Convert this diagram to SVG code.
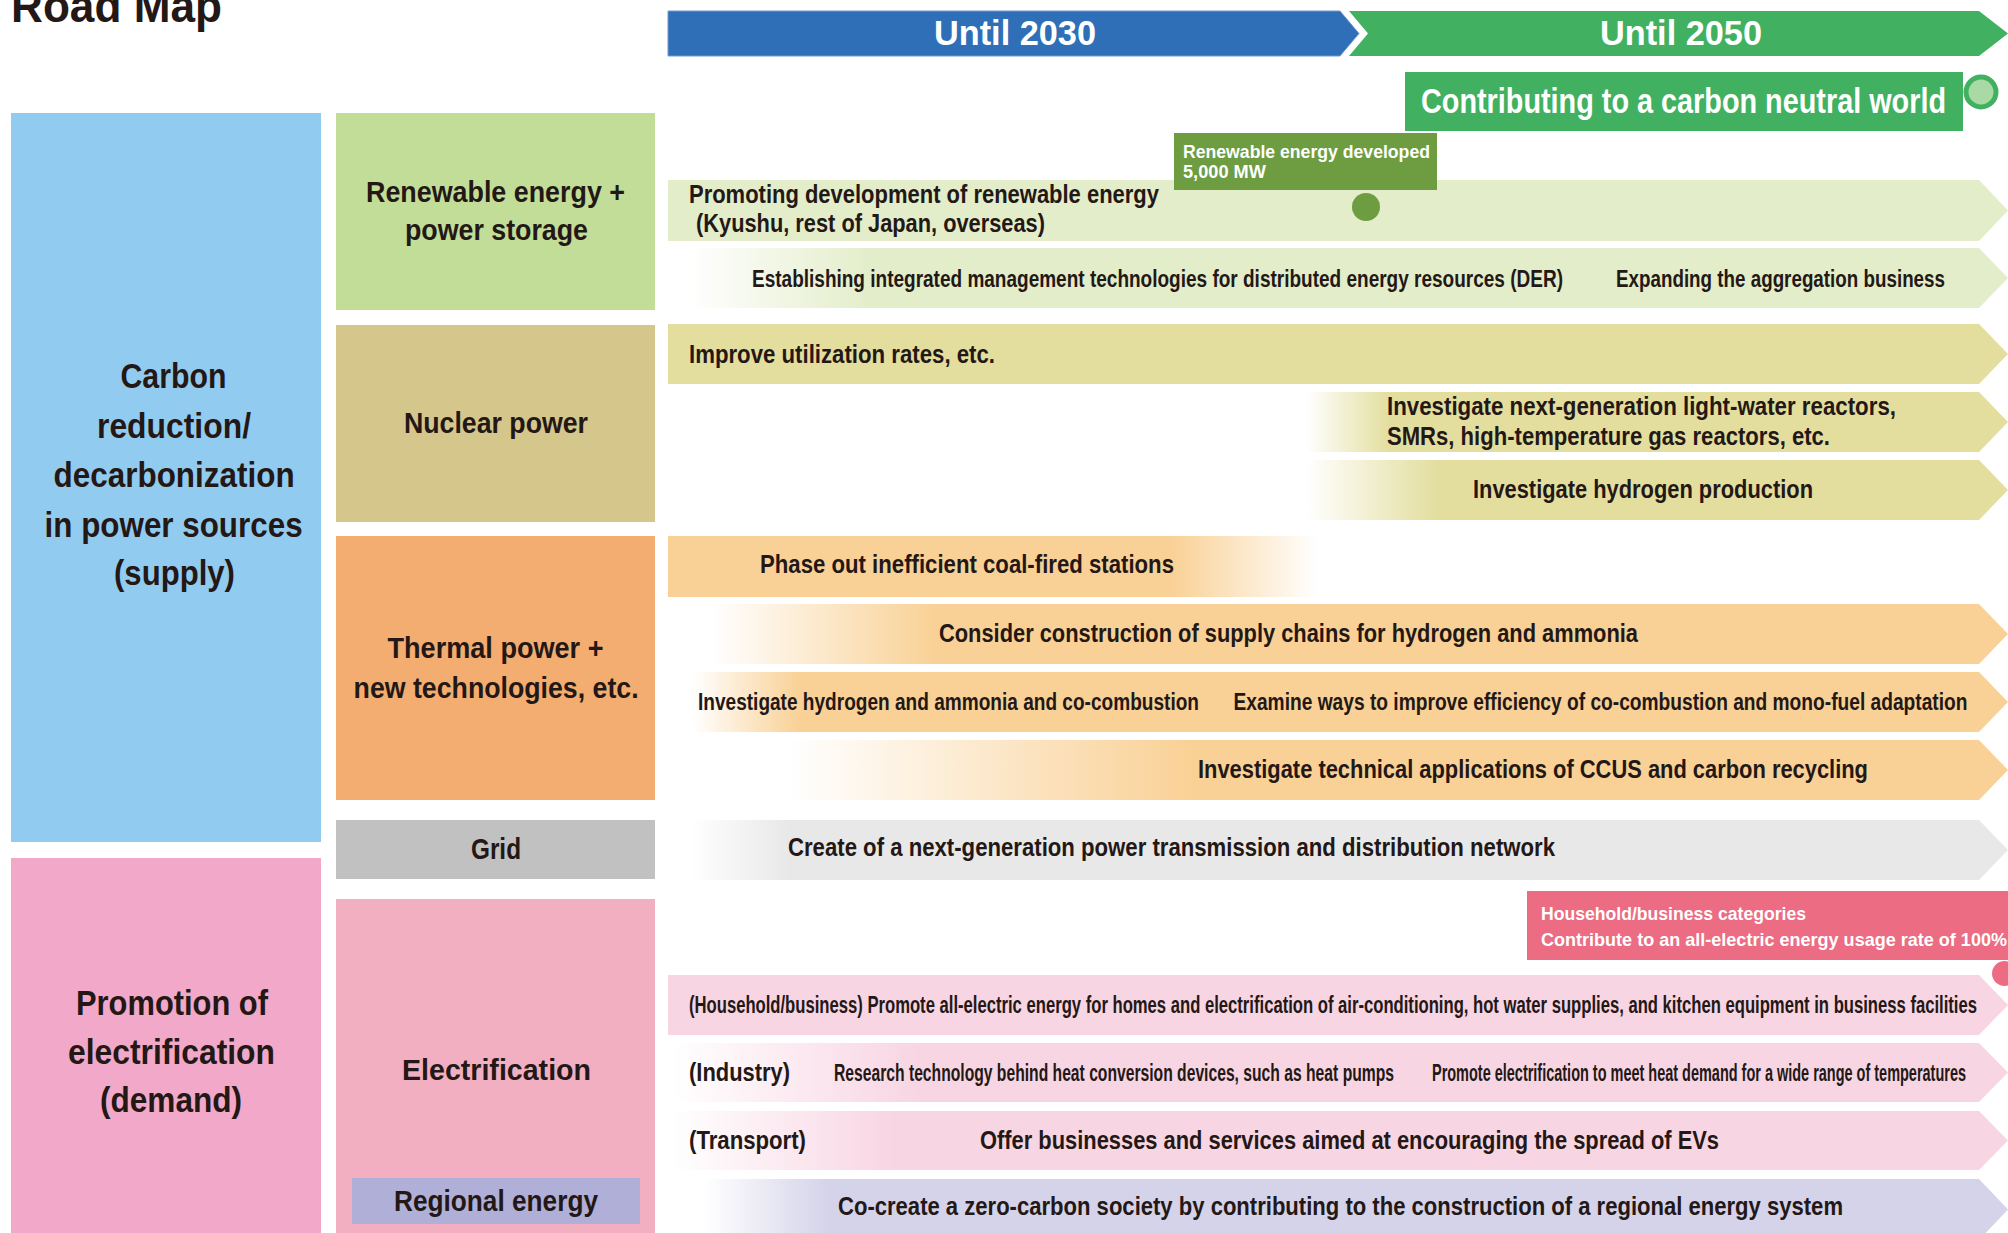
<svg xmlns="http://www.w3.org/2000/svg" width="2008" height="1233" viewBox="0 0 2008 1233">
<style>
.t{font-family:"Liberation Sans",Arial,sans-serif;font-weight:bold;fill:#231815}
.w{fill:#ffffff}
.c46{font-size:32.857px}.c36{font-size:25.714px}.c35{font-size:25px}.c30{font-size:21.4286px}.c25{font-size:17.857px}.c24{font-size:17.143px}.c23{font-size:12.65px}.c19{font-size:13.571px}
</style>
<defs>
<linearGradient id="gR2" gradientUnits="userSpaceOnUse" x1="690" y1="0" x2="873" y2="0"><stop offset="0" stop-color="#E3EDC9" stop-opacity="0"/><stop offset="1" stop-color="#E3EDC9"/></linearGradient>
<linearGradient id="gR4" gradientUnits="userSpaceOnUse" x1="1306" y1="0" x2="1390" y2="0"><stop offset="0" stop-color="#E3DE9E" stop-opacity="0"/><stop offset="1" stop-color="#E3DE9E"/></linearGradient>
<linearGradient id="gR5" gradientUnits="userSpaceOnUse" x1="1306" y1="0" x2="1438" y2="0"><stop offset="0" stop-color="#E3DE9E" stop-opacity="0"/><stop offset="1" stop-color="#E3DE9E"/></linearGradient>
<linearGradient id="gR6" gradientUnits="userSpaceOnUse" x1="1172" y1="0" x2="1318" y2="0"><stop offset="0" stop-color="#F9D196"/><stop offset="1" stop-color="#F9D196" stop-opacity="0"/></linearGradient>
<linearGradient id="gR7" gradientUnits="userSpaceOnUse" x1="712" y1="0" x2="935" y2="0"><stop offset="0" stop-color="#F9D196" stop-opacity="0"/><stop offset="1" stop-color="#F9D196"/></linearGradient>
<linearGradient id="gR8" gradientUnits="userSpaceOnUse" x1="692" y1="0" x2="800" y2="0"><stop offset="0" stop-color="#F9D196" stop-opacity="0"/><stop offset="1" stop-color="#F9D196"/></linearGradient>
<linearGradient id="gR9" gradientUnits="userSpaceOnUse" x1="790" y1="0" x2="1190" y2="0"><stop offset="0" stop-color="#F9D196" stop-opacity="0"/><stop offset="1" stop-color="#F9D196"/></linearGradient>
<linearGradient id="gR10" gradientUnits="userSpaceOnUse" x1="690" y1="0" x2="790" y2="0"><stop offset="0" stop-color="#E8E8E8" stop-opacity="0"/><stop offset="1" stop-color="#E8E8E8"/></linearGradient>
<linearGradient id="gR12" gradientUnits="userSpaceOnUse" x1="672" y1="0" x2="918" y2="0"><stop offset="0" stop-color="#F8D5E3" stop-opacity="0"/><stop offset="1" stop-color="#F8D5E3"/></linearGradient>
<linearGradient id="gR13" gradientUnits="userSpaceOnUse" x1="672" y1="0" x2="895" y2="0"><stop offset="0" stop-color="#F8D5E3" stop-opacity="0"/><stop offset="1" stop-color="#F8D5E3"/></linearGradient>
<linearGradient id="gR14" gradientUnits="userSpaceOnUse" x1="704" y1="0" x2="828" y2="0"><stop offset="0" stop-color="#D5D3E9" stop-opacity="0"/><stop offset="1" stop-color="#D5D3E9"/></linearGradient>
</defs>
<rect width="2008" height="1233" fill="#ffffff"/>

<g id="title">
<text class="t c46" x="11" y="22" transform="matrix(1 0 0 1.4 0 -8.8)" textLength="211" lengthAdjust="spacingAndGlyphs">Road Map</text>
</g>

<g id="header-2030">
<polygon points="668,11 1340,11 1359,33.5 1340,56 668,56" fill="#2F6FB7" stroke="#6E9BD0" stroke-width="1"/>
<text class="t w c36" x="934" y="45" transform="matrix(1 0 0 1.4 0 -18)" textLength="162" lengthAdjust="spacingAndGlyphs">Until 2030</text>
</g>
<g id="header-2050">
<polygon points="1349,11 1979,11 2008,33.5 1979,56 1349,56 1368,33.5" fill="#41B161"/>
<text class="t w c36" x="1600" y="45" transform="matrix(1 0 0 1.4 0 -18)" textLength="162" lengthAdjust="spacingAndGlyphs">Until 2050</text>
</g>
<g id="goal">
<rect x="1405" y="72" width="558" height="59" fill="#41B161"/>
<text class="t w c35" x="1421" y="113" transform="matrix(1 0 0 1.4 0 -45.2)" textLength="525" lengthAdjust="spacingAndGlyphs">Contributing to a carbon neutral world</text>
<circle cx="1981" cy="92" r="15" fill="#A9D9A4" stroke="#41B161" stroke-width="5"/>
</g>

<g id="supply">
<rect x="11" y="113" width="310" height="729" fill="#92CBF0"/>
<text class="t c35" x="120.5" y="388" transform="matrix(1 0 0 1.4 0 -155.2)" textLength="106" lengthAdjust="spacingAndGlyphs">Carbon</text>
<text class="t c35" x="97" y="438" transform="matrix(1 0 0 1.4 0 -175.2)" textLength="154" lengthAdjust="spacingAndGlyphs">reduction/</text>
<text class="t c35" x="53.6" y="487" transform="matrix(1 0 0 1.4 0 -194.8)" textLength="241" lengthAdjust="spacingAndGlyphs">decarbonization</text>
<text class="t c35" x="44.6" y="537" transform="matrix(1 0 0 1.4 0 -214.8)" textLength="258" lengthAdjust="spacingAndGlyphs">in power sources</text>
<text class="t c35" x="114" y="585" transform="matrix(1 0 0 1.4 0 -234)" textLength="121" lengthAdjust="spacingAndGlyphs">(supply)</text>
</g>
<g id="demand">
<rect x="11" y="858" width="310" height="375" fill="#F2A8C9"/>
<text class="t c35" x="76" y="1015" transform="matrix(1 0 0 1.4 0 -406)" textLength="192" lengthAdjust="spacingAndGlyphs">Promotion of</text>
<text class="t c35" x="68" y="1064" transform="matrix(1 0 0 1.4 0 -425.6)" textLength="207" lengthAdjust="spacingAndGlyphs">electrification</text>
<text class="t c35" x="100" y="1112" transform="matrix(1 0 0 1.4 0 -444.8)" textLength="142" lengthAdjust="spacingAndGlyphs">(demand)</text>
</g>

<g id="renewable">
<rect x="336" y="113" width="319" height="197" fill="#C1DD97"/>
<text class="t c30" x="366" y="202" transform="matrix(1 0 0 1.4 0 -80.8)" textLength="259" lengthAdjust="spacingAndGlyphs">Renewable energy +</text>
<text class="t c30" x="405" y="240" transform="matrix(1 0 0 1.4 0 -96)" textLength="183" lengthAdjust="spacingAndGlyphs">power storage</text>
</g>
<g id="nuclear">
<rect x="336" y="325" width="319" height="197" fill="#D5C68B"/>
<text class="t c30" x="404" y="433" transform="matrix(1 0 0 1.4 0 -173.2)" textLength="184" lengthAdjust="spacingAndGlyphs">Nuclear power</text>
</g>
<g id="thermal">
<rect x="336" y="536" width="319" height="264" fill="#F4AD70"/>
<text class="t c30" x="387.5" y="658" transform="matrix(1 0 0 1.4 0 -263.2)" textLength="216" lengthAdjust="spacingAndGlyphs">Thermal power +</text>
<text class="t c30" x="353.6" y="698" transform="matrix(1 0 0 1.4 0 -279.2)" textLength="285" lengthAdjust="spacingAndGlyphs">new technologies, etc.</text>
</g>
<g id="grid">
<rect x="336" y="820" width="319" height="59" fill="#C0C1C0"/>
<text class="t c30" x="471" y="859" transform="matrix(1 0 0 1.4 0 -343.6)" textLength="50" lengthAdjust="spacingAndGlyphs">Grid</text>
</g>
<g id="electrification">
<rect x="336" y="899" width="319" height="334" fill="#F2AFC1"/>
<text class="t c30" x="402" y="1080" transform="matrix(1 0 0 1.4 0 -432)" textLength="189" lengthAdjust="spacingAndGlyphs">Electrification</text>
</g>
<g id="regional">
<rect x="352" y="1178" width="288" height="46" fill="#AFAFD7"/>
<text class="t c30" x="394" y="1211" transform="matrix(1 0 0 1.4 0 -484.4)" textLength="204" lengthAdjust="spacingAndGlyphs">Regional energy</text>
</g>

<g id="bar-renewable-dev">
<polygon points="668,180 1979,180 2008,210.5 1979,241 668,241" fill="#E3EDC9"/>
<text class="t c25" x="689" y="203" transform="matrix(1 0 0 1.4 0 -81.2)" textLength="470" lengthAdjust="spacingAndGlyphs">Promoting development of renewable energy</text>
<text class="t c25" x="696" y="232" transform="matrix(1 0 0 1.4 0 -92.8)" textLength="349" lengthAdjust="spacingAndGlyphs">(Kyushu, rest of Japan, overseas)</text>
</g>
<g id="milestone-renewable">
<rect x="1174" y="133" width="263" height="57" fill="#6D9D40"/>
<text class="t w c19" x="1183" y="158" transform="matrix(1 0 0 1.4 0 -63.2)" textLength="247" lengthAdjust="spacingAndGlyphs">Renewable energy developed</text>
<text class="t w c19" x="1183" y="178" transform="matrix(1 0 0 1.4 0 -71.2)" textLength="83" lengthAdjust="spacingAndGlyphs">5,000 MW</text>
<circle cx="1366" cy="207" r="14" fill="#6D9D40"/>
</g>
<g id="bar-der">
<polygon points="690,248 1979,248 2008,278 1979,308 690,308" fill="url(#gR2)"/>
<text class="t c24" x="752" y="287" transform="matrix(1 0 0 1.4 0 -114.8)" textLength="811" lengthAdjust="spacingAndGlyphs">Establishing integrated management technologies for distributed energy resources (DER)</text>
<text class="t c24" x="1616" y="287" transform="matrix(1 0 0 1.4 0 -114.8)" textLength="329" lengthAdjust="spacingAndGlyphs">Expanding the aggregation business</text>
</g>
<g id="bar-utilization">
<polygon points="668,324 1979,324 2008,354 1979,384 668,384" fill="#E3DE9E"/>
<text class="t c25" x="689" y="363" transform="matrix(1 0 0 1.4 0 -145.2)" textLength="306" lengthAdjust="spacingAndGlyphs">Improve utilization rates, etc.</text>
</g>
<g id="bar-next-gen">
<polygon points="1306,392 1979,392 2008,422 1979,452 1306,452" fill="url(#gR4)"/>
<text class="t c25" x="1387" y="415" transform="matrix(1 0 0 1.4 0 -166)" textLength="509" lengthAdjust="spacingAndGlyphs">Investigate next-generation light-water reactors,</text>
<text class="t c25" x="1387" y="445" transform="matrix(1 0 0 1.4 0 -178)" textLength="443" lengthAdjust="spacingAndGlyphs">SMRs, high-temperature gas reactors, etc.</text>
</g>
<g id="bar-h2-production">
<polygon points="1306,460 1979,460 2008,490 1979,520 1306,520" fill="url(#gR5)"/>
<text class="t c25" x="1473" y="498" transform="matrix(1 0 0 1.4 0 -199.2)" textLength="340" lengthAdjust="spacingAndGlyphs">Investigate hydrogen production</text>
</g>
<g id="bar-coal">
<rect x="668" y="536" width="504" height="61" fill="#F9D196"/>
<rect x="1172" y="536" width="146" height="61" fill="url(#gR6)"/>
<text class="t c25" x="760" y="573" transform="matrix(1 0 0 1.4 0 -229.2)" textLength="414" lengthAdjust="spacingAndGlyphs">Phase out inefficient coal-fired stations</text>
</g>
<g id="bar-supply-chain">
<polygon points="712,604 1979,604 2008,634 1979,664 712,664" fill="url(#gR7)"/>
<text class="t c25" x="939" y="642" transform="matrix(1 0 0 1.4 0 -256.8)" textLength="699" lengthAdjust="spacingAndGlyphs">Consider construction of supply chains for hydrogen and ammonia</text>
</g>
<g id="bar-cocombustion">
<polygon points="692,672 1979,672 2008,702 1979,732 692,732" fill="url(#gR8)"/>
<text class="t c24" x="698" y="710" transform="matrix(1 0 0 1.4 0 -284)" textLength="501" lengthAdjust="spacingAndGlyphs">Investigate hydrogen and ammonia and co-combustion</text>
<text class="t c24" x="1233.5" y="710" transform="matrix(1 0 0 1.4 0 -284)" textLength="734" lengthAdjust="spacingAndGlyphs">Examine ways to improve efficiency of co-combustion and mono-fuel adaptation</text>
</g>
<g id="bar-ccus">
<polygon points="790,740 1979,740 2008,770 1979,800 790,800" fill="url(#gR9)"/>
<text class="t c25" x="1198" y="778" transform="matrix(1 0 0 1.4 0 -311.2)" textLength="670" lengthAdjust="spacingAndGlyphs">Investigate technical applications of CCUS and carbon recycling</text>
</g>
<g id="bar-grid">
<polygon points="690,820 1979,820 2008,850 1979,880 690,880" fill="url(#gR10)"/>
<text class="t c25" x="788" y="856" transform="matrix(1 0 0 1.4 0 -342.4)" textLength="767" lengthAdjust="spacingAndGlyphs">Create of a next-generation power transmission and distribution network</text>
</g>
<g id="bar-household">
<polygon points="668,975 1979,975 2008,1005 1979,1035 668,1035" fill="#F8D5E3"/>
<text class="t c23" x="689" y="1013" transform="matrix(1 0 0 1.81818 0 -828.82)" textLength="1288" lengthAdjust="spacingAndGlyphs">(Household/business) Promote all-electric energy for homes and electrification of air-conditioning, hot water supplies, and kitchen equipment in business facilities</text>
</g>
<g id="milestone-electric">
<rect x="1527" y="891" width="481" height="69" fill="#EB6C83"/>
<text class="t w c19" x="1541" y="920" transform="matrix(1 0 0 1.4 0 -368)" textLength="265" lengthAdjust="spacingAndGlyphs">Household/business categories</text>
<text class="t w c19" x="1541" y="946" transform="matrix(1 0 0 1.4 0 -378.4)" textLength="466" lengthAdjust="spacingAndGlyphs">Contribute to an all-electric energy usage rate of 100%</text>
<circle cx="2004.5" cy="973.5" r="12.5" fill="#EB6C83"/>
</g>
<g id="bar-industry">
<polygon points="672,1043 1979,1043 2008,1072.5 1979,1102 672,1102" fill="url(#gR12)"/>
<text class="t c25" x="689" y="1081" transform="matrix(1 0 0 1.4 0 -432.4)" textLength="101" lengthAdjust="spacingAndGlyphs">(Industry)</text>
<text class="t c23" x="834" y="1081" transform="matrix(1 0 0 1.81818 0 -884.45)" textLength="560" lengthAdjust="spacingAndGlyphs">Research technology behind heat conversion devices, such as heat pumps</text>
<text class="t c23" x="1432" y="1081" transform="matrix(1 0 0 1.81818 0 -884.45)" textLength="534" lengthAdjust="spacingAndGlyphs">Promote electrification to meet heat demand for a wide range of temperatures</text>
</g>
<g id="bar-transport">
<polygon points="672,1111 1979,1111 2008,1140.5 1979,1170 672,1170" fill="url(#gR13)"/>
<text class="t c25" x="689" y="1149" transform="matrix(1 0 0 1.4 0 -459.6)" textLength="117" lengthAdjust="spacingAndGlyphs">(Transport)</text>
<text class="t c25" x="980" y="1149" transform="matrix(1 0 0 1.4 0 -459.6)" textLength="739" lengthAdjust="spacingAndGlyphs">Offer businesses and services aimed at encouraging the spread of EVs</text>
</g>
<g id="bar-regional">
<polygon points="704,1179 1979,1179 2008,1209.5 1979,1240 704,1240" fill="url(#gR14)"/>
<text class="t c25" x="838" y="1215" transform="matrix(1 0 0 1.4 0 -486)" textLength="1005" lengthAdjust="spacingAndGlyphs">Co-create a zero-carbon society by contributing to the construction of a regional energy system</text>
</g>
</svg>
